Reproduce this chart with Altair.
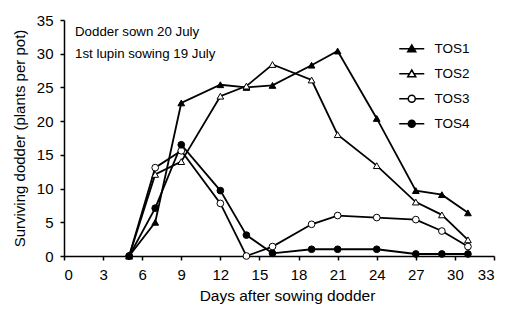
import altair as alt
import pandas as pd

days = [5, 7, 9, 12, 14, 16, 19, 21, 24, 27, 29, 31]
tos1 = [0, 5.0, 22.7, 25.4, 25.0, 25.3, 28.3, 30.4, 20.4, 9.7, 9.1, 6.4]
tos2 = [0, 12.1, 14.0, 23.7, 25.2, 28.4, 26.1, 18.0, 13.4, 8.0, 6.1, 2.4]
tos3 = [0, 13.1, 15.6, 7.8, 0, 1.4, 4.7, 6.0, 5.7, 5.4, 3.7, 1.4]
tos4 = [0, 7.1, 16.5, 9.7, 3.1, 0.4, 1.0, 1.0, 1.0, 0.3, 0.3, 0.3]
series = ["TOS1", "TOS2", "TOS3", "TOS4"]
x_ticks = list(range(0, 34, 3))
y_ticks = list(range(0, 36, 5))
notes = "Dodder sown 20 July\n1st lupin sowing 19 July"

df = pd.DataFrame({
    "day": days * 4,
    "value": tos1 + tos2 + tos3 + tos4,
    "series": [s for s in series for _ in days],
})

FONT = "Liberation Sans"

x = alt.X("day:Q", scale=alt.Scale(domain=[0, 33], nice=False),
          axis=alt.Axis(values=x_ticks, title="Days after sowing dodder", grid=False,
                        titleX=223, titleFontSize=15.5, labelPadding=7, titlePadding=6))
y = alt.Y("value:Q", scale=alt.Scale(domain=[0, 35], nice=False),
          axis=alt.Axis(values=y_ticks, title="Surviving dodder (plants per pot)", grid=False,
                        titleFontSize=15, labelPadding=7, titlePadding=9))

line = alt.Chart(df).mark_line(color="black", strokeWidth=1.8).encode(x=x, y=y, detail="series:N")

pts = alt.Chart(df).mark_point(filled=True, stroke="black", strokeWidth=1, opacity=1, size=45).encode(
    x=x, y=y,
    shape=alt.Shape("series:N", scale=alt.Scale(domain=series,
                    range=["triangle-up", "triangle-up", "circle", "circle"]), legend=None),
    fill=alt.Fill("series:N", scale=alt.Scale(domain=series,
                  range=["black", "white", "white", "black"]), legend=None),
)

tri = "M-2.5,0H-0.45M0.45,0H2.5M0,-0.75L0.8,0.6L-0.8,0.6Z"
circ = "M-2.5,0H-0.7M0.7,0H2.5M0.7,0A0.7,0.7 0 1,1 -0.7,0A0.7,0.7 0 1,1 0.7,0Z"

leg_legend = alt.Legend(orient="none", legendX=341, legendY=22, title=None,
                        symbolSize=100, symbolStrokeWidth=1.5,
                        symbolOpacity=1,
                        labelFontSize=13.5, labelFont=FONT, labelColor="black",
                        labelOffset=16, rowPadding=10, padding=0)
leg = alt.Chart(df).transform_filter("false").mark_point(filled=True, strokeWidth=1.5, opacity=1).encode(
    x=x, y=y,
    shape=alt.Shape("series:N", scale=alt.Scale(domain=series, range=[tri, tri, circ, circ]), legend=leg_legend),
    fill=alt.Fill("series:N", scale=alt.Scale(domain=series, range=["black", "white", "white", "black"]), legend=leg_legend),
    stroke=alt.Stroke("series:N", scale=alt.Scale(domain=series, range=["black"] * 4), legend=leg_legend),
)

txt = alt.Chart(pd.DataFrame({"text": [notes]})).mark_text(
    align="left", baseline="top", fontSize=13.3, font=FONT, color="black",
    lineBreak="\n", lineHeight=22,
).encode(x=alt.value(11), y=alt.value(5), text="text:N")

chart = alt.layer(line, pts, leg, txt).resolve_scale(
    shape="independent", fill="independent", stroke="independent"
).properties(
    width=430, height=236,
    autosize=alt.AutoSizeParams(type="none"),
    padding={"left": 56, "top": 12, "right": 4, "bottom": 54},
).configure_view(stroke=None).configure_axis(
    domainColor="black", domainWidth=1.5, tickColor="black", tickWidth=1.5, tickSize=4,
    labelColor="black", titleColor="black", labelFont=FONT, titleFont=FONT,
    labelFontSize=15, titleFontWeight="normal",
)

chart.save("out.html", embed_options={"renderer": "svg", "actions": False})
